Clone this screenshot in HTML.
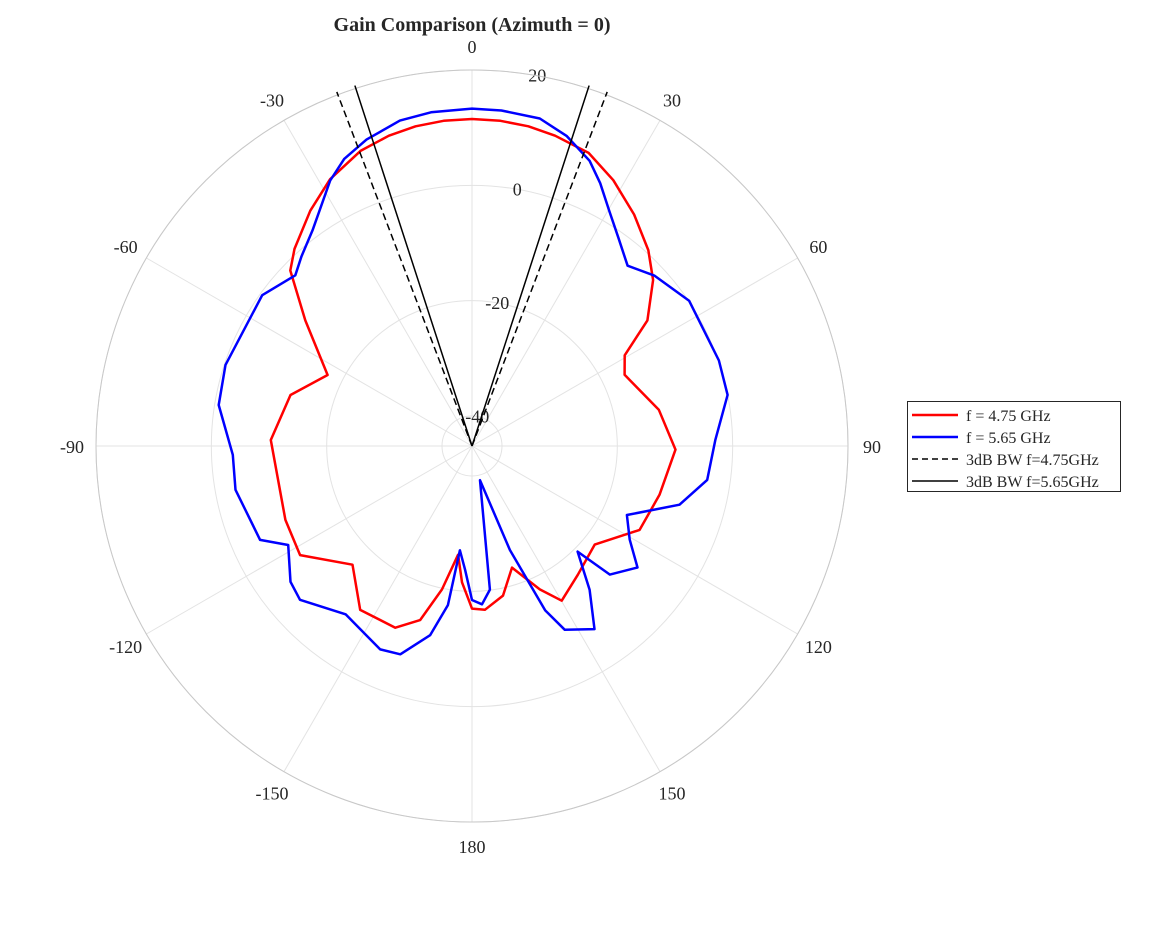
<!DOCTYPE html>
<html><head><meta charset="utf-8"><style>
body{margin:0;background:#fff;}
svg text{font-family:"Liberation Serif",serif;fill:#262626;}
</style></head><body>
<svg id="chart" width="1158" height="926" xmlns="http://www.w3.org/2000/svg">
<rect width="1158" height="926" fill="#fff"/>
<text x="472" y="31" text-anchor="middle" font-size="20" font-weight="bold" fill="#000">Gain Comparison (Azimuth = 0)</text>
<g id="grid"></g>
<g id="series"></g>
<g>
<rect x="907.5" y="401.5" width="213" height="90" fill="#fff" stroke="#262626" stroke-width="1"/>
<line x1="912" y1="415" x2="958" y2="415" stroke="#ff0000" stroke-width="2.5"/>
<text x="966" y="421" font-size="16">f = 4.75 GHz</text>
<line x1="912" y1="437" x2="958" y2="437" stroke="#0000ff" stroke-width="2.5"/>
<text x="966" y="443" font-size="16">f = 5.65 GHz</text>
<line x1="912" y1="459" x2="958" y2="459" stroke="#000" stroke-width="1.5" stroke-dasharray="6,4"/>
<text x="966" y="465" font-size="16">3dB BW f=4.75GHz</text>
<line x1="912" y1="481" x2="958" y2="481" stroke="#000" stroke-width="1.5"/>
<text x="966" y="487" font-size="16">3dB BW f=5.65GHz</text>
</g>
</svg>
<script>
const rTicks=[-40,-20,0,20];
const angleTicks=[0,30,60,90,120,150,180,-150,-120,-90,-60,-30];
const redAngles=[0,5,10,15,21.7,28,35,42,47.5,54.4,59.3,65,79,91,104.6,116.6,128.8,140.6,149.9,154.7,161.8,168.3,175.5,180,184.2,187.3,191.8,196.6,202.9,214.3,225.2,237.6,248.4,271.7,285.7,296.2,307,314,318,325.5,332,339.3,345,350,355];
const redGain=[11.5,11.4,11.1,10.5,9.5,7,3.8,0.5,-2.6,-7.8,-14.4,-16,-12.2,-9.9,-11.6,-12.7,-17.9,-16.3,-14.2,-17.7,-23,-18.7,-16.7,-17,-21.5,-26.2,-19.8,-13.7,-11,-10.8,-16,-9.9,-10.4,-10.3,-12.5,-17.3,-9,-1.4,0.8,4.3,7.2,9.5,10.5,11.1,11.4];
const blueAngles=[0,5,11.7,17,22.4,26,30.3,35,40.8,47,56.2,70.9,78.7,88.6,98.2,105.8,114,120.7,126.3,133,135,140.7,146.2,153.2,156,160,166.8,172.9,176.4,180,183.2,186.6,188.6,192.5,199,204.3,216.9,228.2,233.2,241.7,246.1,259.5,267.9,279.2,288.2,305.7,314,318,323.5,331.9,336,341,347.5,353];
const blueGain=[13.3,13.2,12.8,11,8.3,5.5,2.0,-1,-3.9,-1.9,0.1,0.1,0,-3,-4,-7.8,-15.8,-13.4,-9.6,-12.5,-19.3,-13,-7,-9.5,-14,-26,-39.1,-20.1,-17.7,-18.5,-23.7,-27,-17.3,-11.6,-7,-6.5,-8.7,-5.2,-5.9,-9,-5,-3.5,-3.7,-0.7,-0.2,-0.4,-2.6,-1,1.3,7,9.3,11,12.6,13.1];
const bw475=[-20.9,20.9];
const bw565=[-18,18];

const cx=472,cy=446,R=376,rMin=-45.2,rMax=20;
function rScale(g){return (g-rMin)/(rMax-rMin)*R;}
function pt(a,r){const t=a*Math.PI/180;return [cx+r*Math.sin(t),cy-r*Math.cos(t)];}
const NS="http://www.w3.org/2000/svg";
const grid=document.getElementById('grid'),series=document.getElementById('series');
function mk(tag,attrs,parent){const e=document.createElementNS(NS,tag);for(const k in attrs)e.setAttribute(k,attrs[k]);parent.appendChild(e);return e;}
angleTicks.forEach(a=>{
 const p=pt(a,R);
 const l=mk('line',{x1:cx,y1:cy,x2:p[0],y2:p[1],stroke:'#e3e3e3','stroke-width':1},grid);
 
 
 const q=pt(a,R+24);
 const t=mk('text',{x:q[0],y:q[1]+7,'text-anchor':'middle','font-size':18},grid);
 t.textContent=a;
 
 
});
rTicks.forEach(g=>{
 const c=mk('circle',{cx:cx,cy:cy,r:rScale(g),fill:'none',stroke:'#e3e3e3','stroke-width':1},grid);
 
 
 const q=pt(10,rScale(g));
 const t=mk('text',{x:q[0],y:q[1]+6,'text-anchor':'middle','font-size':18},grid);
 t.textContent=g;
 
 
});
mk('circle',{cx:cx,cy:cy,r:R,fill:'none',stroke:'#c8c8c8','stroke-width':1},grid);
function curve(angs,gains,color,name){
 const d=angs.map((a,i)=>{const p=pt(a,rScale(gains[i]));return (i?'L':'M')+p[0].toFixed(1)+','+p[1].toFixed(1);}).join('')+'Z';
 const p=mk('path',{d:d,fill:'none',stroke:color,'stroke-width':2.5,'stroke-linejoin':'round'},series);
 
 
}
curve(redAngles,redGain,'#ff0000','gain-curve-4-75ghz');
curve(blueAngles,blueGain,'#0000ff','gain-curve-5-65ghz');
function bw(arr,dash,name){arr.forEach(a=>{const p=pt(a,R+3);
 const l=mk('line',{x1:cx,y1:cy,x2:p[0],y2:p[1],stroke:'#000','stroke-width':1.5},series);
 if(dash)l.setAttribute('stroke-dasharray','7,4');
 
 
});}
bw(bw475,true,'beamwidth-line-4-75ghz');
bw(bw565,false,'beamwidth-line-5-65ghz');
</script>
</body></html>
